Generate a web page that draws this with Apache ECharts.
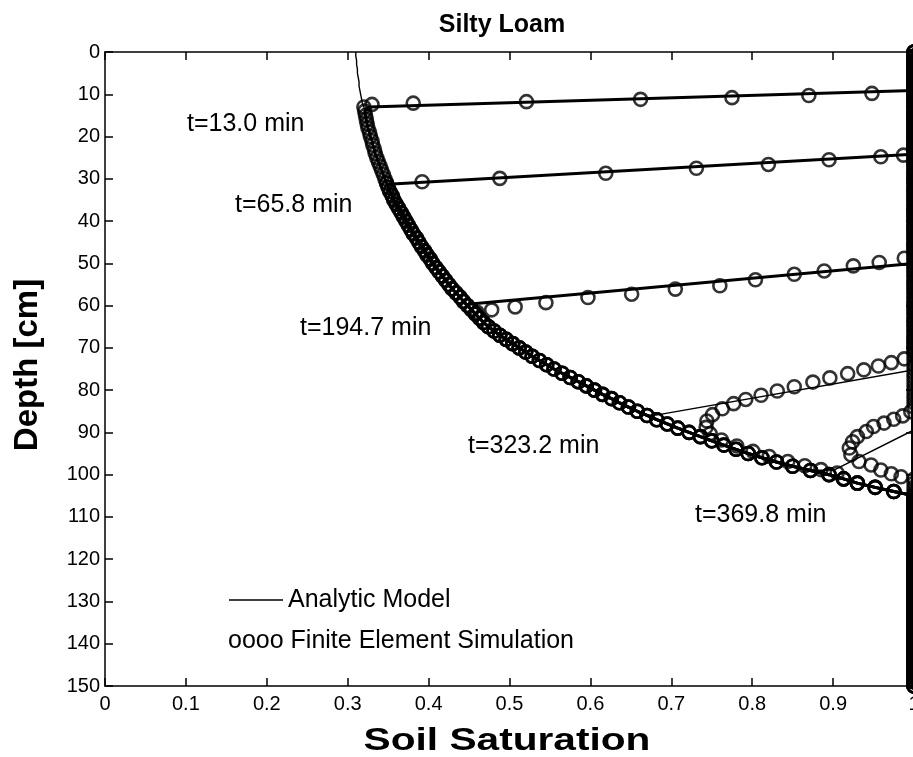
<!DOCTYPE html>
<html>
<head>
<meta charset="utf-8">
<script src="https://cdn.jsdelivr.net/npm/echarts@6/dist/echarts.min.js"></script>
<style>html,body{margin:0;padding:0;background:#fff;}#chart{width:913px;height:757px;}</style>
</head>
<body>
<div id="chart"></div>
<script>
// ---------- DATA ----------
const xTicks = ['0','0.1','0.2','0.3','0.4','0.5','0.6','0.7','0.8','0.9','1'];
const times = ['t=13.0 min','t=65.8 min','t=194.7 min','t=323.2 min','t=369.8 min'];

// finite element mesh nodes (depth, cm)
const meshDepth = [
  0,1,2,3,4,5,6,7,8,9,10,11,12,13,14,15,16,17,18,19,
  20,21,22,23,24,25,26,27,28,29,30,31,32,33,34,35,36,37,38,39,
  40,41,42,43,44,45,46,47,48,49,50,51,52,53,54,55,56,57,58,59,
  60,61,62,63,64,65,66,67,68,69,70,71,72,73,74,75,76,77,78,79,
  80,81,82,83,84,85,86,87,88,89,90,91,92,93,94,95,96,97,98,99,
  100,101,102,103,104,105,106,107,108,109,110,111,112,113,114,115,116,117,118,119,
  120,121,122,123,124,125,126,127,128,129,130,131,132,133,134,135,136,137,138,139,
  140,141,142,143,144,145,146,147,148,149,150
];

// initial saturation profile at depths 0..105 cm
const initialSat = [
  0.310,0.310,0.311,0.311,0.312,0.312,0.313,0.314,0.314,0.315,
  0.316,0.317,0.318,0.320,0.321,0.322,0.323,0.324,0.325,0.327,
  0.328,0.330,0.331,0.333,0.334,0.336,0.338,0.340,0.342,0.344,
  0.346,0.348,0.350,0.352,0.355,0.357,0.360,0.363,0.366,0.369,
  0.372,0.375,0.378,0.381,0.385,0.388,0.391,0.395,0.398,0.402,
  0.405,0.409,0.413,0.417,0.421,0.425,0.429,0.434,0.439,0.443,
  0.448,0.453,0.458,0.463,0.468,0.474,0.481,0.488,0.496,0.504,
  0.512,0.520,0.528,0.537,0.546,0.555,0.565,0.575,0.585,0.595,
  0.605,0.615,0.626,0.636,0.647,0.658,0.670,0.682,0.695,0.708,
  0.722,0.736,0.750,0.765,0.780,0.795,0.812,0.830,0.850,0.872,
  0.895,0.913,0.930,0.952,0.975,1.000
];

// Analytic model: sharp front from (1, anaTop) to (anaFrontSat, anaFrontDepth)
const anaTop        = [9.1, 24.2, 50.0, 75.2, 89.4];
const anaFrontSat   = [0.326, 0.350, 0.452, 0.681, 0.901];
const anaFrontDepth = [13.0, 31.3, 59.6, 85.9, 98.9];

// Finite element simulation: front nodes [saturation, depth]
const fe13  = [[0.330,12.4],[0.381,12.1],[0.521,11.75],[0.662,11.2],[0.775,10.8],[0.870,10.3],[0.948,9.8]];
const fe66  = [[0.392,30.7],[0.488,29.9],[0.619,28.7],[0.731,27.5],[0.820,26.6],[0.895,25.5],[0.959,24.8],[0.987,24.4]];
const fe195 = [[0.460,61.6],[0.478,61.0],[0.507,60.3],[0.545,59.3],[0.597,58.1],[0.651,57.3],[0.705,56.1],
               [0.760,55.3],[0.804,53.9],[0.852,52.6],[0.889,51.8],[0.925,50.6],[0.957,49.8],[0.988,48.8]];
const fe323 = [[0.988,72.6],[0.972,73.5],[0.956,74.3],[0.938,75.2],[0.918,76.1],[0.896,77.1],[0.875,78.1],
               [0.852,79.2],[0.831,80.2],[0.811,81.2],[0.792,82.2],[0.777,83.2],[0.763,84.4],[0.751,85.8],
               [0.744,87.3],[0.743,88.8],[0.748,90.3],[0.762,91.8],[0.781,93.2],[0.801,94.5],[0.821,95.7],
               [0.844,96.9],[0.865,97.9],[0.885,98.8],[0.905,99.6]];
const fe370 = [[0.996,85.1],[0.986,86.1],[0.975,86.9],[0.963,87.8],[0.950,88.6],[0.941,89.8],[0.930,91.0],
               [0.924,92.2],[0.920,93.7],[0.922,95.3],[0.932,96.9],[0.947,97.7],[0.959,98.9],[0.972,99.8],[0.984,100.5]];
const feFronts = [fe13, fe66, fe195, fe323, fe370];
const feSatAbove  = [9.5, 24, 48, 72, 85];   // nodes shallower than this are saturated
const feInitStart = [13, 31, 62, 101, 999];  // nodes from here follow the initial profile
const feSatBelow  = [105, 105, 105, 105, 101]; // nodes from here are saturated

// ---------- BUILD ----------
function analyticData(i) {
  const pts = [[1, 0], [1, anaTop[i]], [anaFrontSat[i], anaFrontDepth[i]]];
  meshDepth.forEach(d => { if (d > anaFrontDepth[i] && d <= 105) pts.push([initialSat[d], d]); });
  pts.push([1, 150]);
  return pts;
}
function initialData() {
  const pts = [];
  meshDepth.forEach(d => { if (d <= 105) pts.push([initialSat[d], d]); });
  pts.push([1, 150]);
  return pts;
}
function feData(i) {
  const pts = [];
  meshDepth.forEach(d => { if (d < feSatAbove[i]) pts.push([1, d]); });
  feFronts[i].forEach(p => pts.push(p));
  meshDepth.forEach(d => { if (d >= feInitStart[i] && d < feSatBelow[i]) pts.push([initialSat[d], d]); });
  meshDepth.forEach(d => { if (d >= feSatBelow[i]) pts.push([1, d]); });
  return pts;
}

const FONT = "'Liberation Sans', Arial, Helvetica, sans-serif";
const lineWidths = [3, 3, 3, 1.4, 1.4];
const series = [];
series.push({type:'line', data: initialData(), showSymbol:false, symbol:'none', silent:true,
  lineStyle:{color:'#000', width:1.4}, z:2});
times.forEach((t, i) => {
  series.push({type:'line', name:t, data: analyticData(i), showSymbol:false, symbol:'none', silent:true,
    lineStyle:{color:'#000', width: lineWidths[i]}, z:2});
});
times.forEach((t, i) => {
  series.push({type:'scatter', name:t + ' FE', data: feData(i), symbol:'circle', symbolSize:13,
    clip:false, silent:true, z:3,
    itemStyle:{color:'rgba(0,0,0,0)', borderColor:'#000', borderWidth:2.6}});
});

function tickStyle() { return {show:true, inside:true, length:8, lineStyle:{color:'#000', width:1.5}}; }
function lineStyleAx(w) { return {show:true, onZero:false, lineStyle:{color:'#000', width:w}}; }

function txt(text, x, y, size, opts) {
  return Object.assign({type:'text', x:x, y:y, silent:true, z:10,
    style:{text:text, font: (opts && opts.bold ? 'bold ' : '') + size + 'px ' + FONT, fill:'#000',
      align:(opts && opts.align) || 'left', verticalAlign:'middle'}}, (opts && opts.extra) || {});
}

const option = {
  animation:false,
  backgroundColor:'#fff',
  grid:{left:105, top:52, width:809, height:634, containLabel:false, outerBoundsMode:'none'},
  xAxis:[
    {type:'value', position:'bottom', min:0, max:1, interval:0.1, z:5,
      axisLine:lineStyleAx(1.5), axisTick:tickStyle(), splitLine:{show:false},
      axisLabel:{show:true, color:'#000', fontSize:20, fontFamily:FONT, margin:8,
        formatter:(v) => xTicks[Math.round(v * 10)]}},
    {type:'value', position:'top', min:0, max:1, interval:0.1, z:5,
      axisLine:lineStyleAx(1.5), axisTick:tickStyle(), splitLine:{show:false}, axisLabel:{show:false}}
  ],
  yAxis:[
    {type:'value', position:'left', inverse:true, min:0, max:150, interval:10, z:5,
      axisLine:lineStyleAx(1.5), axisTick:tickStyle(), splitLine:{show:false},
      axisLabel:{show:true, color:'#000', fontSize:20, fontFamily:FONT, margin:5}},
    {type:'value', position:'right', inverse:true, min:0, max:150, interval:10, z:5,
      axisLine:lineStyleAx(6), axisTick:tickStyle(), splitLine:{show:false}, axisLabel:{show:false}}
  ],
  graphic:[
    txt('Silty Loam', 502, 25, 25, {bold:true, align:'center'}),
    txt('Soil Saturation', 507, 741, 32, {bold:true, align:'center', extra:{scaleX:1.27}}),
    txt('Depth [cm]', 28, 365, 33, {bold:true, align:'center', extra:{rotation:Math.PI/2}}),
    txt(times[0], 187, 124, 25),
    txt(times[1], 235, 205, 25),
    txt(times[2], 300, 328, 25),
    txt(times[3], 468, 446, 25),
    txt(times[4], 695, 515, 25),
    {type:'line', silent:true, shape:{x1:229, y1:600, x2:283, y2:600}, style:{stroke:'#000', lineWidth:1.5}},
    txt('Analytic Model', 288, 600, 25),
    txt('oooo Finite Element Simulation', 228, 641, 25)
  ],
  series: series
};

const chart = echarts.init(document.getElementById('chart'), null, {renderer:'canvas'});
chart.setOption(option);
</script>
</body>
</html>
